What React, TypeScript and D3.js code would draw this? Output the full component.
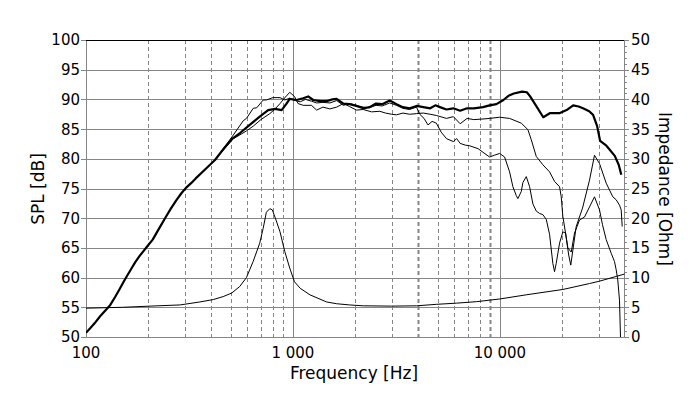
import React from 'react';
import * as d3 from 'd3';

// on-axis SPL (thick)
const onAxisHz = [100, 105, 110, 117, 125, 131, 138, 145, 152, 158, 165, 173, 182, 190, 197, 210, 225, 241, 257, 274, 289, 304, 322, 339, 376, 420, 465, 506, 553, 618, 691, 759, 818, 882, 931, 965, 1040, 1121, 1185, 1253, 1350, 1454, 1550, 1627, 1752, 1877, 2027, 2186, 2345, 2520, 2700, 2935, 3164, 3393, 3661, 3954, 4268, 4604, 4876, 5133, 5517, 5958, 6424, 6941, 7483, 8284, 8918, 9621, 10400, 11000, 11680, 12800, 13500, 14000, 15100, 16200, 17500, 19500, 21000, 22600, 24000, 25200, 27000, 28200, 29500, 30500, 32700, 35900, 37500, 38600];
const onAxisDb = [50.7, 51.5, 52.3, 53.5, 54.6, 55.4, 56.7, 58.0, 59.3, 60.3, 61.4, 62.6, 63.7, 64.5, 65.2, 66.4, 68.2, 70.0, 71.6, 73.1, 74.2, 75.1, 75.9, 76.7, 78.2, 79.8, 81.8, 83.3, 84.3, 85.7, 87.1, 88.2, 88.4, 88.2, 89.3, 90.1, 89.9, 90.2, 90.5, 89.9, 89.7, 89.7, 90.0, 90.1, 89.3, 89.2, 88.9, 88.5, 88.7, 89.3, 89.2, 89.8, 89.2, 88.7, 88.5, 88.9, 88.7, 88.5, 89.0, 88.7, 88.3, 88.5, 88.1, 88.5, 88.5, 88.7, 89.0, 89.2, 89.9, 90.6, 91.0, 91.3, 91.2, 90.5, 88.7, 87.0, 87.7, 87.7, 88.2, 89.0, 88.8, 88.5, 88.0, 87.4, 85.5, 83.0, 82.2, 80.5, 79.0, 77.3];

// off-axis SPL, falls early
const offAHz = [420, 465, 515, 575, 596, 643, 669, 718, 744, 800, 866, 913, 965, 1003, 1084, 1150, 1229, 1301, 1396, 1508, 1627, 1752, 1877, 2027, 2186, 2345, 2520, 2700, 2935, 3164, 3393, 3661, 3954, 4100, 4300, 4494, 4700, 4930, 5200, 5517, 5958, 6180, 6424, 6800, 7130, 7850, 8284, 8918, 9400, 9968, 10537, 11137, 11556, 12002, 12217, 12687, 12914, 13414, 13915, 14435, 14985, 15544, 16126, 16749, 17374, 18022, 18365, 18715, 19419, 20143, 20760, 21296, 22117, 22941, 24252, 25640, 27101, 28648, 30289, 31318, 32629, 34498, 35787, 36470, 37123, 37832, 38257];
const offADb = [79.8, 81.9, 84.0, 86.4, 86.8, 88.5, 88.6, 89.9, 89.9, 90.3, 90.3, 89.9, 90.2, 89.9, 89.6, 90.0, 89.7, 89.4, 89.5, 89.4, 89.8, 89.0, 89.3, 89.0, 88.7, 88.6, 89.0, 88.9, 89.4, 89.0, 88.5, 88.3, 88.7, 87.5, 86.8, 85.7, 86.3, 86.0, 84.5, 83.4, 82.9, 83.4, 82.6, 82.3, 82.2, 81.7, 81.1, 80.3, 80.6, 80.9, 80.3, 77.8, 75.3, 73.8, 73.3, 74.5, 76.0, 77.0, 75.3, 72.4, 71.2, 70.8, 70.6, 69.8, 67.3, 62.4, 61.0, 62.4, 65.8, 67.7, 67.5, 65.0, 64.3, 67.5, 69.7, 70.2, 71.9, 73.6, 71.4, 68.9, 66.4, 64.1, 62.7, 61.3, 59.6, 56.2, 50.0];

// off-axis SPL, flat to 12k
const offBHz = [420, 465, 515, 553, 596, 643, 700, 773, 820, 866, 920, 965, 1017, 1059, 1121, 1229, 1301, 1396, 1508, 1627, 1752, 1877, 2027, 2186, 2398, 2628, 2800, 3000, 3158, 3400, 3661, 3954, 4268, 4604, 4930, 5517, 5958, 6424, 6941, 7483, 8284, 8918, 9968, 11137, 12687, 13654, 14181, 14985, 16126, 17374, 18365, 19419, 19789, 20143, 20760, 21500, 22000, 22512, 23379, 25075, 27101, 28648, 30289, 32629, 35118, 36470, 37832, 38553, 38991];
const offBDb = [79.8, 81.6, 83.4, 84.0, 84.7, 85.5, 86.6, 87.6, 88.4, 89.3, 90.4, 91.2, 90.5, 89.3, 89.0, 89.0, 88.2, 88.7, 88.4, 88.7, 89.3, 88.8, 88.2, 88.3, 87.9, 88.0, 87.7, 87.5, 87.4, 87.7, 87.5, 87.6, 87.7, 87.5, 87.3, 86.8, 87.1, 85.9, 86.8, 86.6, 86.7, 86.8, 87.0, 86.8, 86.0, 84.9, 83.2, 80.4, 79.0, 77.8, 76.2, 75.3, 73.6, 70.3, 67.5, 63.8, 62.1, 64.6, 68.6, 71.7, 76.4, 80.6, 79.2, 75.9, 73.6, 73.1, 72.2, 71.4, 68.6];

// impedance
const impHz = [100, 150, 204, 285, 355, 412, 460, 506, 553, 596, 642, 691, 718, 744, 773, 795, 828, 866, 913, 965, 1017, 1084, 1208, 1454, 1627, 1877, 2192, 3000, 3954, 4930, 6180, 7720, 9985, 13400, 20150, 27100, 30290, 36500, 40000];
const impOhm = [4.85, 5.0, 5.2, 5.4, 5.9, 6.3, 6.8, 7.4, 8.5, 10.0, 12.7, 15.8, 18.3, 21.0, 21.6, 21.4, 19.7, 17.7, 14.4, 11.6, 9.3, 8.2, 7.1, 5.9, 5.6, 5.4, 5.25, 5.2, 5.25, 5.5, 5.7, 5.95, 6.4, 7.1, 8.0, 9.0, 9.4, 10.2, 10.6];

const splTicks = [50, 55, 60, 65, 70, 75, 80, 85, 90, 95, 100];
const impTicks = [0, 5, 10, 15, 20, 25, 30, 35, 40, 45, 50];
const freqMajor = [100, 1000, 10000];
const freqLabels = ['100', '1 000', '10 000'];
const freqMinor = [200, 300, 400, 500, 600, 700, 800, 900, 2000, 3000, 4000, 5000, 6000, 7000, 8000, 9000, 20000, 30000];

const font = 'DejaVu Sans, Verdana, sans-serif';
const grid = '#858585';

export default function App() {
  const left = 86, right = 624, top = 40, bottom = 337;
  const x = d3.scaleLog().domain([100, 40000]).range([left, right + 0.5]);
  const ySpl = d3.scaleLinear().domain([50, 100]).range([bottom, top]);
  const yImp = d3.scaleLinear().domain([0, 50]).range([bottom, top]);
  const px = (v: number) => Math.round(v) + 0.5;

  const splLine = d3.line<[number, number]>().x(d => x(d[0])).y(d => ySpl(d[1]));
  const impLine = d3.line<[number, number]>().x(d => x(d[0])).y(d => yImp(d[1]));
  const zip = (a: number[], b: number[]) => a.map((v, i) => [v, b[i]] as [number, number]);

  const minorOhm = d3.range(0, 51).filter(v => v % 5 !== 0);

  return (
    <svg width={700} height={399} style={{ position: 'absolute', left: 0, top: 0, background: '#fff' }} fontFamily={font}>
      <defs>
        <clipPath id="plot">
          <rect x={left} y={top - 2} width={right - left + 1} height={bottom - top + 2} />
        </clipPath>
      </defs>
      <rect width={700} height={399} fill="#fff" />

      {/* vertical grid */}
      {freqMinor.map(f => (
        <line key={'v' + f} x1={px(x(f))} x2={px(x(f))} y1={top} y2={bottom}
          stroke={grid} strokeWidth={f === 4000 || f === 9000 ? 2 : 1} strokeDasharray="4,3" />
      ))}
      {freqMajor.map(f => (
        <line key={'V' + f} x1={px(x(f))} x2={px(x(f))} y1={top} y2={bottom} stroke={grid} />
      ))}
      <line x1={px(right)} x2={px(right)} y1={top} y2={bottom} stroke={grid} />

      {/* horizontal grid */}
      {splTicks.map(t => (
        <g key={'h' + t}>
          <line x1={left - 5} x2={right + 5} y1={px(ySpl(t))} y2={px(ySpl(t))}
            stroke={t === 100 ? '#000' : grid} />
          <line x1={left - 5} x2={left} y1={px(ySpl(t))} y2={px(ySpl(t))} stroke={grid} />
          <line x1={right} x2={right + 5} y1={px(ySpl(t))} y2={px(ySpl(t))} stroke={grid} />
          <text x={80} y={ySpl(t)} dy="0.36em" textAnchor="end" fontSize={15} fill="#000">{t}</text>
        </g>
      ))}
      {minorOhm.map(t => (
        <line key={'m' + t} x1={right} x2={right + 3} y1={px(yImp(t))} y2={px(yImp(t))} stroke={grid} />
      ))}
      {impTicks.map(t => (
        <text key={'r' + t} x={631} y={yImp(t)} dy="0.36em" textAnchor="start" fontSize={15} fill="#000">{t}</text>
      ))}
      {freqMajor.map((f, i) => (
        <text key={'b' + f} x={x(f)} y={358} textAnchor="middle" fontSize={15} fill="#000">{freqLabels[i]}</text>
      ))}

      <g clipPath="url(#plot)" fill="none" stroke="#000" strokeLinejoin="round">
        <path d={impLine(zip(impHz, impOhm)) || ''} strokeWidth={1} />
        <path d={splLine(zip(offAHz, offADb)) || ''} strokeWidth={1} />
        <path d={splLine(zip(offBHz, offBDb)) || ''} strokeWidth={1} />
        <path d={splLine(zip(onAxisHz, onAxisDb)) || ''} strokeWidth={2.2} />
      </g>

      <text x={354} y={379} textAnchor="middle" fontSize={17} fill="#000">Frequency [Hz]</text>
      <text transform="translate(44,189) rotate(-90)" textAnchor="middle" fontSize={17} fill="#000">SPL [dB]</text>
      <text transform="translate(659,189) rotate(90)" textAnchor="middle" fontSize={17} fill="#000">Impedance [Ohm]</text>
    </svg>
  );
}
